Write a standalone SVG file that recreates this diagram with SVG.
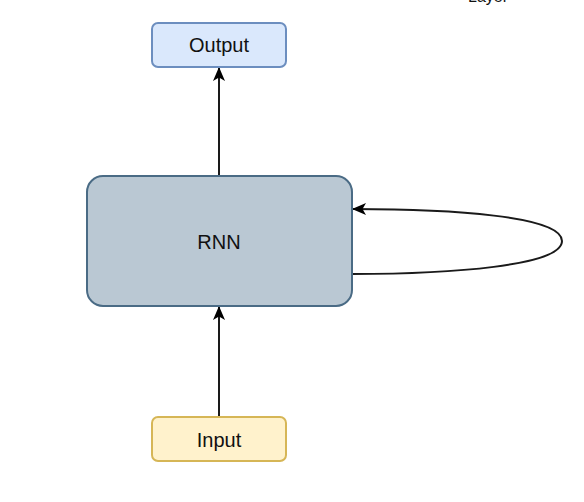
<svg xmlns="http://www.w3.org/2000/svg" width="584" height="502" viewBox="0 0 584 502">
<style>
.lbl{font-family:"Liberation Sans",Arial,sans-serif;font-size:20px;fill:#111;text-anchor:middle;dominant-baseline:central}
.edge{fill:none;stroke:#1a1a1a;stroke-width:2}
</style>
<defs>
<marker id="arr" viewBox="0 0 14 12" refX="13" refY="6" markerWidth="14" markerHeight="12" markerUnits="userSpaceOnUse" orient="auto">
<path d="M0,0 L14,6 L0,12 L3.5,6 Z" fill="#000"/>
</marker>
</defs>
<rect width="584" height="502" fill="#fff"/>
<text x="488" y="2" style="font-family:'Liberation Sans',Arial,sans-serif;font-size:16px;fill:#111" text-anchor="middle">Layer</text>
<g id="connectors">
<path class="edge" d="M219,176 L219,68" marker-end="url(#arr)"/>
<path class="edge" d="M219,417 L219,307" marker-end="url(#arr)"/>
<path class="edge" d="M352,274 C450,274 562,266 562,241 C562,216 450,209 353,209" marker-end="url(#arr)"/>
</g>
<g id="output">
<rect x="152" y="23" width="134" height="44" rx="6" fill="#dae8fc" stroke="#6c8ebf" stroke-width="2"/>
<text class="lbl" x="219" y="45">Output</text>
</g>
<g id="rnn">
<rect x="87" y="176" width="265" height="130" rx="16" fill="#bac8d3" stroke="#4a6b85" stroke-width="2"/>
<text class="lbl" x="219" y="242">RNN</text>
</g>
<g id="input">
<rect x="152" y="417" width="134" height="44" rx="6" fill="#fff2cc" stroke="#d6b656" stroke-width="2"/>
<text class="lbl" x="219" y="440">Input</text>
</g>
</svg>
